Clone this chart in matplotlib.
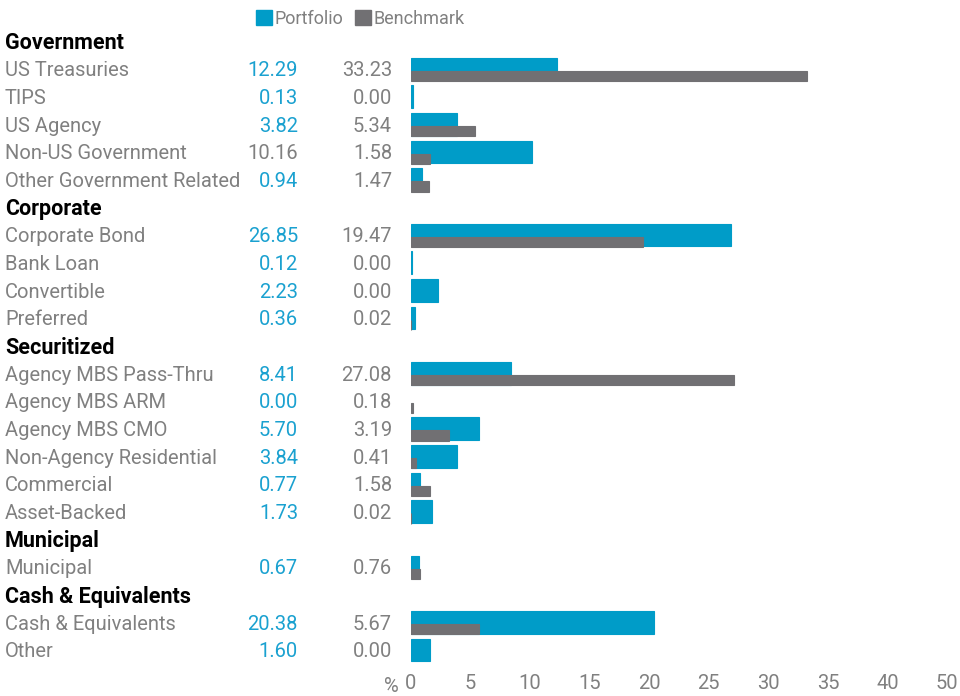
import matplotlib
matplotlib.use("Agg")
import matplotlib.pyplot as plt
from matplotlib.patches import Patch
from matplotlib.transforms import blended_transform_factory

plt.rcParams['font.family'] = ['Roboto', 'DejaVu Sans']

# ---- data ----
sectors = ["Government", "Corporate", "Securitized", "Municipal", "Cash & Equivalents"]
sector_items = [
    ["US Treasuries", "TIPS", "US Agency", "Non-US Government", "Other Government Related"],
    ["Corporate Bond", "Bank Loan", "Convertible", "Preferred"],
    ["Agency MBS Pass-Thru", "Agency MBS ARM", "Agency MBS CMO", "Non-Agency Residential",
     "Commercial", "Asset-Backed"],
    ["Municipal"],
    ["Cash & Equivalents", "Other"],
]
portfolio = [
    [12.29, 0.13, 3.82, 10.16, 0.94],
    [26.85, 0.12, 2.23, 0.36],
    [8.41, 0.00, 5.70, 3.84, 0.77, 1.73],
    [0.67],
    [20.38, 1.60],
]
benchmark = [
    [33.23, 0.00, 5.34, 1.58, 1.47],
    [19.47, 0.00, 0.00, 0.02],
    [27.08, 0.18, 3.19, 0.41, 1.58, 0.02],
    [0.76],
    [5.67, 0.00],
]
# the source prints this one portfolio value in grey
grey_values = ["Non-US Government"]

x_ticks = [0, 5, 10, 15, 20, 25, 30, 35, 40, 45]
x_tick_labels = ["0", "5", "10", "15", "20", "25", "30", "35", "40", "50"]

BLUE = "#009cc8"
GREY = "#717073"
LABEL = "#808080"
VALUE_BLUE = "#1aa1d0"

W, H = 960, 696
fig = plt.figure(figsize=(W / 100, H / 100), dpi=100)

n_rows = len(sectors) + sum(len(s) for s in sector_items)
pitch = (650 - 69) / (n_rows - 2)
first_px = 69 - pitch
top_px = first_px - pitch / 2
bot_px = 650 + pitch / 2
ax = fig.add_axes([411 / W, 1 - bot_px / H, (947 - 411) / W, (bot_px - top_px) / H])
ax.set_xlim(0, 45)
ax.set_ylim(n_rows - 0.5, -0.5)

tr = blended_transform_factory(fig.transFigure, ax.transData)
fs = 14.5
dy = 0.07  # nudge text down to sit on the bar centre

row = 0
for s, sector in enumerate(sectors):
    ax.text(5 / W, row + dy, sector, transform=tr, ha="left", va="center",
            fontsize=15.5, fontweight="bold", color="black")
    row += 1
    for name, p, b in zip(sector_items[s], portfolio[s], benchmark[s]):
        ax.text(5 / W, row + dy, name, transform=tr, ha="left", va="center",
                fontsize=fs, color=LABEL)
        pcol = LABEL if name in grey_values else VALUE_BLUE
        ax.text(298 / W, row + dy, f"{p:.2f}", transform=tr, ha="right", va="center",
                fontsize=fs, color=pcol)
        ax.text(392 / W, row + dy, f"{b:.2f}", transform=tr, ha="right", va="center",
                fontsize=fs, color=LABEL)
        if p > 0:
            ax.barh(row, p, height=0.82, color=BLUE, edgecolor=BLUE, linewidth=0.8)
        if b > 0:
            ax.barh(row + 0.25, b, height=0.37, color=GREY, edgecolor=GREY, linewidth=0.8)
        row += 1

for side in ["top", "right", "left", "bottom"]:
    ax.spines[side].set_visible(False)
ax.set_yticks([])
ax.set_xticks(x_ticks)
ax.set_xticklabels(x_tick_labels, fontsize=fs, color=LABEL)
ax.tick_params(axis="x", length=0, pad=7)
ax.text(399 / W, 1 - 686 / H, "%", transform=fig.transFigure, ha="right",
        va="center", fontsize=fs, color=LABEL)

handles = [Patch(color=BLUE), Patch(color=GREY)]
fig.legend(handles, ["Portfolio", "Benchmark"], loc="center left",
           bbox_to_anchor=(247 / W, 1 - 19 / H), ncol=2, frameon=False,
           fontsize=13, handlelength=0.9, handleheight=0.9, handletextpad=0.15,
           columnspacing=0.6, labelcolor=LABEL, borderpad=0)

fig.savefig("out.png", dpi=100)
